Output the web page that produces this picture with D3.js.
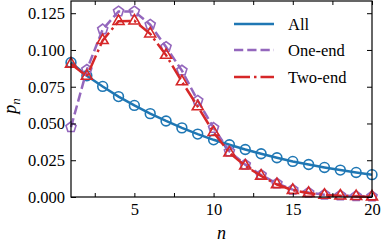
<!DOCTYPE html>
<html><head><meta charset="utf-8">
<script src="https://cdn.jsdelivr.net/npm/d3@7"></script>
<style>body{margin:0;background:#fff}svg{display:block}svg text{font-family:"Liberation Serif","Times New Roman",Tinos,"Nimbus Roman","DejaVu Serif",serif !important}</style>
</head><body>
<script>
const nValues = d3.range(1, 21);
const allValues = [0.0915,0.0825,0.0752,0.0683,0.0623,0.0567,0.0517,0.0470,0.0428,0.0389,0.0355,0.0323,0.0294,0.0267,0.0242,0.0221,0.0201,0.0183,0.0167,0.0152];
const oneEndValues = [0.0475,0.0865,0.1140,0.1262,0.1262,0.1172,0.1020,0.0860,0.0655,0.0470,0.0310,0.0220,0.0150,0.0092,0.0050,0.0030,0.0016,0.0010,0.0006,0.0004];
const twoEndValues = [0.0905,0.0822,0.1065,0.1195,0.1198,0.1110,0.0965,0.0785,0.0615,0.0440,0.0300,0.0212,0.0143,0.0085,0.0046,0.0026,0.0013,0.0008,0.0004,0.0002];
const seriesNames = ["All","One-end","Two-end"];
const xTickLabels = [5,10,15,20];
const yTickLabels = [0.000,0.025,0.050,0.075,0.100,0.125];

const W=381,H=244, L=71,R=372,T=1,B=197;
const FS=16.5;
const svg=d3.select("body").append("svg").attr("width",W).attr("height",H);
const x=d3.scaleLinear().domain([1,20]).range([L,R]);
const y=d3.scaleLinear().domain([0,0.1333]).range([B,T]);

const colors=["#1f77b4","#9467bd","#d62728"];
const dashes=[null,"9.25,4","16,4,2.5,4"];
const data=[allValues,oneEndValues,twoEndValues];
const line=d3.line().x((d,i)=>x(nValues[i])).y(d=>y(d));

const g=svg.append("g");
svg.append("clipPath").attr("id","c").append("rect").attr("x",L-8).attr("y",T).attr("width",R-L+16).attr("height",B-T+8);
const plot=g.append("g").attr("clip-path","url(#c)");

function pentagon(r){const p=[];for(let k=0;k<5;k++){const a=-Math.PI/2+k*2*Math.PI/5;p.push([r*Math.cos(a),r*Math.sin(a)]);}return "M"+p.map(q=>q.join(",")).join("L")+"Z";}
data.forEach((vals,si)=>{
  plot.append("path").attr("d",line(vals)).attr("fill","none").attr("stroke",colors[si]).attr("stroke-width",2.5)
    .attr("stroke-dasharray",dashes[si]);
  vals.forEach((v,i)=>{
    let d;
    if(si===0) d=d3.symbol(d3.symbolCircle,75)();
    else if(si===1) d=pentagon(5.3);
    else d=d3.symbol(d3.symbolTriangle,52)();
    plot.append("path").attr("d",d).attr("transform",`translate(${x(nValues[i])},${y(v)})`)
      .attr("fill","none").attr("stroke",colors[si]).attr("stroke-width",1.6);
  });
});

// frame
g.append("rect").attr("x",L).attr("y",T).attr("width",R-L).attr("height",B-T).attr("fill","none").attr("stroke","#000").attr("stroke-width",1.2);

// axes with inward ticks
const xt=d3.range(2.5,20.01,2.5);
const xAxisB=d3.axisBottom(x).tickValues(xt).tickSize(-4).tickPadding(6).tickFormat(d=>xTickLabels.includes(d)?d3.format("d")(d):"");
const xAxisT=d3.axisTop(x).tickValues(xt).tickSize(-4).tickFormat("");
const yAxisL=d3.axisLeft(y).tickValues(yTickLabels).tickSize(-5).tickPadding(6).tickFormat(d3.format(".3f"));
const yAxisR=d3.axisRight(y).tickValues(yTickLabels).tickSize(-5).tickFormat("");
function style(sel){sel.attr("font-family",null);sel.select(".domain").remove();sel.selectAll("line").attr("stroke","#000").attr("stroke-width",1);sel.selectAll("text").attr("font-size",FS).attr("fill","#000");}
g.append("g").attr("transform",`translate(0,${B})`).call(xAxisB).call(style);
g.append("g").attr("transform",`translate(0,${T})`).call(xAxisT).call(style);
g.append("g").attr("transform",`translate(${L},0)`).call(yAxisL).call(style);
g.append("g").attr("transform",`translate(${R},0)`).call(yAxisR).call(style);

// axis labels
svg.append("text").attr("x",(L+R)/2).attr("y",239).attr("text-anchor","middle").attr("font-size",18).attr("font-style","italic").text("n");
const yl=svg.append("text").attr("transform","translate(16,106) rotate(-90)").attr("text-anchor","middle").attr("font-size",18).attr("font-style","italic");
yl.append("tspan").text("p");
yl.append("tspan").attr("font-size",13).attr("dy",4).text("n");

// legend
const ly=[24,50,77];
seriesNames.forEach((nm,i)=>{
  svg.append("line").attr("x1",234).attr("x2",274).attr("y1",ly[i]).attr("y2",ly[i]).attr("stroke",colors[i]).attr("stroke-width",2.5).attr("stroke-dasharray",dashes[i]);
  svg.append("text").attr("x",288).attr("y",ly[i]+6).attr("font-size",FS).text(nm);
});
</script>
</body></html>
